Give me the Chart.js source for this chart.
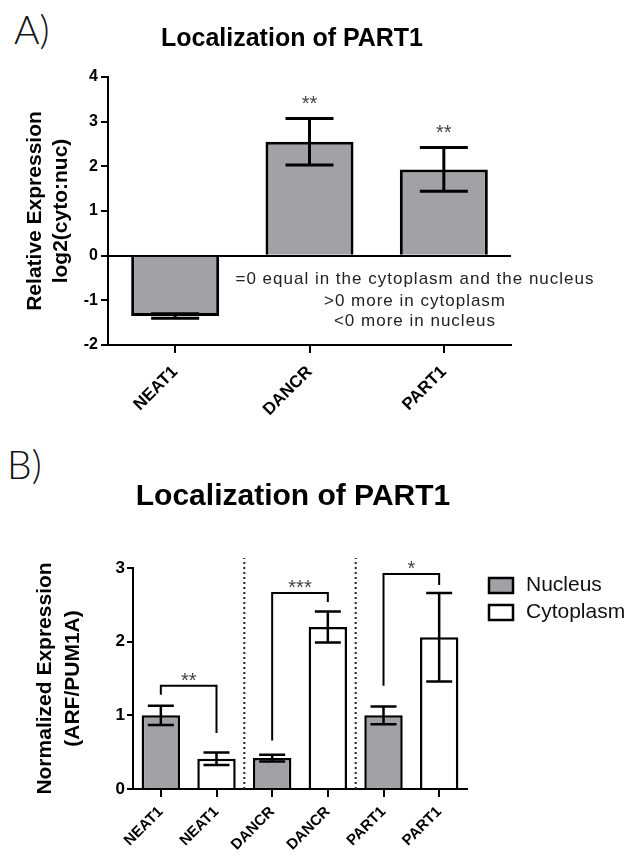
<!DOCTYPE html>
<html>
<head>
<meta charset="utf-8">
<script src="https://cdn.jsdelivr.net/npm/chart.js@4.4.1/dist/chart.umd.min.js"></script>
<style>
  body { margin: 0; background: #fff; width: 628px; height: 857px; position: relative; overflow: hidden; }
  .tag { position: absolute; font-family: Lato, "DejaVu Sans", sans-serif; font-weight: 300; font-size: 39px; color: #111; line-height: 1; }
  canvas { position: absolute; left: 0; }
</style>
</head>
<body>
<div class="tag" style="left:14px;top:10px">A)</div>
<div class="tag" style="left:7px;top:445px">B)</div>
<canvas id="chartA" width="628" height="440" style="top:0"></canvas>
<canvas id="chartB" width="628" height="417" style="top:440px"></canvas>
<script>
// panel A: log2(cyto:nuc)
const catsA = ['NEAT1', 'DANCR', 'PART1'];
const ratioA = [-1.35, 2.55, 1.93];
const ratioErrA = [0.05, 0.52, 0.49];
const starsA = ['', '**', '**'];
const notesA = ['=0 equal in the cytoplasm and the nucleus', '>0 more in cytoplasm', '<0 more in nucleus'];

// panel B: normalized expression
const catsB = ['NEAT1', 'NEAT1', 'DANCR', 'DANCR', 'PART1', 'PART1'];
const nucleusB = [1.00, null, 0.42, null, 1.00, null];
const nucleusErrB = [0.13, null, 0.045, null, 0.12, null];
const cytoB = [null, 0.41, null, 2.20, null, 2.06];
const cytoErrB = [null, 0.085, null, 0.21, null, 0.60];
const pairsB = [[0, 1], [2, 3], [4, 5]];
const starsB = ['**', '***', '*'];
const bracketTopB = [1.40, 2.66, 2.92];
const bracketLegB = [[1.28, 0.76], [0.66, 2.54], [1.40, 2.77]];
const splitsB = [1.5, 3.5];

const FONT = '"Liberation Sans", Arial, sans-serif';
const GREY = '#a2a2a6';

// error bars drawn from the dataset values through the y scale
const errorBars = {
  id: 'errorBars',
  afterDatasetsDraw(chart, args, opts) {
    const { ctx } = chart;
    const y = chart.scales.y;
    chart.data.datasets.forEach((ds, i) => {
      const meta = chart.getDatasetMeta(i);
      meta.data.forEach((bar, j) => {
        const v = ds.data[j], e = ds.errors[j];
        if (v == null || e == null) return;
        const top = y.getPixelForValue(v + e), bot = y.getPixelForValue(v - e);
        const h = opts.cap / 2;
        ctx.save();
        ctx.strokeStyle = '#000';
        ctx.lineWidth = opts.width;
        ctx.beginPath();
        ctx.moveTo(bar.x, top); ctx.lineTo(bar.x, bot);
        ctx.moveTo(bar.x - h, top); ctx.lineTo(bar.x + h, top);
        ctx.moveTo(bar.x - h, bot); ctx.lineTo(bar.x + h, bot);
        ctx.stroke();
        ctx.restore();
      });
    });
  }
};

const extrasA = {
  id: 'extrasA',
  afterDraw(chart) {
    const { ctx } = chart;
    const x = chart.scales.x, y = chart.scales.y;
    ctx.save();
    ctx.fillStyle = '#000';
    ctx.textAlign = 'center';
    ctx.textBaseline = 'alphabetic';
    ctx.font = 'bold 25px ' + FONT;
    ctx.fillText('Localization of PART1', 292, 46);

    ctx.fillStyle = '#444';
    ctx.font = '20px ' + FONT;
    starsA.forEach((s, i) => {
      if (!s) return;
      ctx.fillText(s, x.getPixelForValue(i), y.getPixelForValue(ratioA[i] + ratioErrA[i]) - 9);
    });

    ctx.fillStyle = '#222';
    ctx.font = '17px ' + FONT;
    ctx.letterSpacing = '1px';
    ctx.textBaseline = 'middle';
    const ys = [279, 301, 321];
    notesA.forEach((t, i) => ctx.fillText(t, 415, ys[i]));
    ctx.restore();
  }
};

const extrasB = {
  id: 'extrasB',
  afterDraw(chart) {
    const { ctx, chartArea } = chart;
    const x = chart.scales.x, y = chart.scales.y;
    ctx.save();
    ctx.fillStyle = '#000';
    ctx.textAlign = 'center';
    ctx.font = 'bold 30px ' + FONT;
    ctx.fillText('Localization of PART1', 293, 65);

    // dotted separators between genes
    ctx.strokeStyle = '#222';
    ctx.lineWidth = 2;
    ctx.setLineDash([2, 3]);
    splitsB.forEach(s => {
      const px = (x.getPixelForValue(Math.floor(s)) + x.getPixelForValue(Math.ceil(s))) / 2;
      ctx.beginPath();
      ctx.moveTo(px, chartArea.bottom);
      ctx.lineTo(px, chartArea.top - 10);
      ctx.stroke();
    });
    ctx.setLineDash([]);

    // significance brackets
    ctx.strokeStyle = '#000';
    ctx.lineWidth = 2;
    ctx.fillStyle = '#444';
    ctx.font = '20px ' + FONT;
    pairsB.forEach((p, i) => {
      const x0 = x.getPixelForValue(p[0]), x1 = x.getPixelForValue(p[1]);
      const top = y.getPixelForValue(bracketTopB[i]);
      ctx.beginPath();
      ctx.moveTo(x0, y.getPixelForValue(bracketLegB[i][0]));
      ctx.lineTo(x0, top);
      ctx.lineTo(x1, top);
      ctx.lineTo(x1, y.getPixelForValue(bracketLegB[i][1]));
      ctx.stroke();
      ctx.fillText(starsB[i], (x0 + x1) / 2, top + 1);
    });

    // legend
    ctx.textAlign = 'left';
    ctx.textBaseline = 'middle';
    ctx.font = '21px ' + FONT;
    chart.data.datasets.forEach((ds, i) => {
      const bx = chartArea.right + 22, by = chartArea.top + 10 + i * 27;
      ctx.fillStyle = ds.backgroundColor;
      ctx.fillRect(bx, by, 24, 15);
      ctx.lineWidth = 2.5;
      ctx.strokeRect(bx, by, 24, 15);
      ctx.fillStyle = '#111';
      ctx.fillText(ds.label, bx + 37, by + 7);
    });
    ctx.restore();
  }
};

new Chart(document.getElementById('chartA'), {
  type: 'bar',
  data: {
    labels: catsA,
    datasets: [{
      label: 'log2(cyto:nuc)',
      data: ratioA,
      errors: ratioErrA,
      backgroundColor: GREY,
      borderColor: '#000',
      borderWidth: 3,
      categoryPercentage: 1,
      barPercentage: 0.655
    }]
  },
  options: {
    responsive: false,
    animation: false,
    layout: { padding: { left: 0, top: 77, right: 117, bottom: 0 } },
    plugins: {
      legend: { display: false },
      tooltip: { enabled: false },
      errorBars: { width: 3, cap: 48 }
    },
    scales: {
      x: {
        afterFit: s => { s.height = 95; },
        grid: { offset: false, drawOnChartArea: false, tickLength: 8, color: '#000', lineWidth: 2 },
        border: { display: true, color: '#000', width: 2 },
        ticks: { color: '#000', font: { family: FONT, size: 17, weight: 'bold' }, minRotation: 45, maxRotation: 45, autoSkip: false, padding: 9 }
      },
      y: {
        min: -2, max: 4,
        afterFit: s => { s.width = 108; },
        grid: {
          color: c => (c.tick && c.tick.value === 0 ? '#000' : 'rgba(0,0,0,0)'),
          tickColor: '#000', lineWidth: 2, tickLength: 7
        },
        border: { display: true, color: '#000', width: 2 },
        ticks: { stepSize: 1, color: '#000', font: { family: FONT, size: 16, weight: 'bold' }, padding: 3 },
        title: {
          display: true,
          text: ['Relative Expression', 'log2(cyto:nuc)'],
          color: '#000',
          font: { family: FONT, size: 21, weight: 'bold', lineHeight: 1.24 },
          padding: { top: 22, bottom: 0 }
        }
      }
    }
  },
  plugins: [errorBars, extrasA]
});

new Chart(document.getElementById('chartB'), {
  type: 'bar',
  data: {
    labels: catsB,
    datasets: [{
      label: 'Nucleus',
      data: nucleusB,
      errors: nucleusErrB,
      backgroundColor: GREY,
      borderColor: '#000',
      borderWidth: 2.5,
      grouped: false,
      categoryPercentage: 1,
      barPercentage: 0.69
    }, {
      label: 'Cytoplasm',
      data: cytoB,
      errors: cytoErrB,
      backgroundColor: '#fff',
      borderColor: '#000',
      borderWidth: 2.5,
      grouped: false,
      categoryPercentage: 1,
      barPercentage: 0.69
    }]
  },
  options: {
    responsive: false,
    animation: false,
    layout: { padding: { left: 0, top: 128, right: 161, bottom: 0 } },
    plugins: {
      legend: { display: false },
      tooltip: { enabled: false },
      errorBars: { width: 2.5, cap: 26 }
    },
    scales: {
      x: {
        afterFit: s => { s.height = 68; },
        grid: { offset: false, drawOnChartArea: false, tickLength: 8, color: '#000', lineWidth: 2 },
        border: { display: true, color: '#000', width: 2 },
        ticks: { color: '#000', font: { family: FONT, size: 15, weight: 'bold' }, minRotation: 45, maxRotation: 45, autoSkip: false, padding: 6 }
      },
      y: {
        min: 0, max: 3,
        afterFit: s => { s.width = 133; },
        grid: { drawOnChartArea: false, tickLength: 6, color: '#000', lineWidth: 2 },
        border: { display: true, color: '#000', width: 2 },
        ticks: { stepSize: 1, color: '#000', font: { family: FONT, size: 17, weight: 'bold' }, padding: 2 },
        title: {
          display: true,
          text: ['Normalized Expression', '(ARF/PUM1A)'],
          color: '#000',
          font: { family: FONT, size: 21, weight: 'bold', lineHeight: 1.33 },
          padding: { top: 31, bottom: 0 }
        }
      }
    }
  },
  plugins: [errorBars, extrasB]
});
</script>
</body>
</html>
